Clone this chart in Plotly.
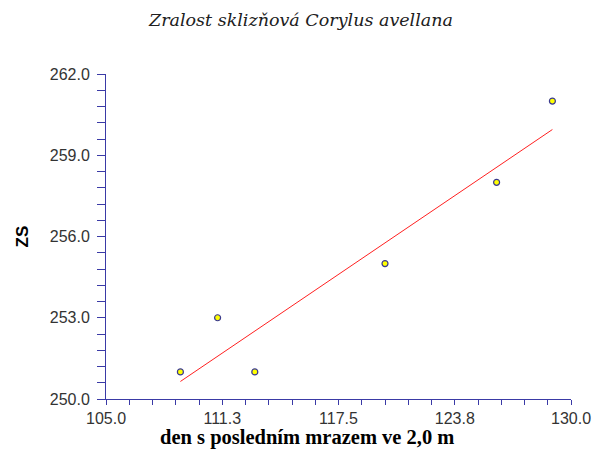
import numpy as np
import plotly.graph_objects as go

# Data
days = [109, 111, 113, 120, 126, 129]
zs = [251, 253, 251, 255, 258, 261]

x_tickvals = [105.0, 111.25, 117.5, 123.75, 130.0]
x_ticktext = ["105.0", "111.3", "117.5", "123.8", "130.0"]
y_tickvals = [250.0, 253.0, 256.0, 259.0, 262.0]
y_ticktext = ["250.0", "253.0", "256.0", "259.0", "262.0"]

title_text = "Zralost sklizňová Corylus avellana"
x_title = "den s posledním mrazem ve 2,0 m"
y_title = "ZS"

# Regression line from data
slope, intercept = np.polyfit(days, zs, 1)
fit_x = [min(days), max(days)]
fit_y = [slope * v + intercept for v in fit_x]

axis_color = "#3a3aa6"
label_color = "#333333"

fig = go.Figure()
fig.add_trace(go.Scatter(x=fit_x, y=fit_y, mode="lines",
                         line=dict(color="#ff2020", width=1), showlegend=False,
                         hoverinfo="skip"))
fig.add_trace(go.Scatter(x=days, y=zs, mode="markers",
                         marker=dict(color="#ffff00", size=6,
                                     line=dict(color="#3a3a90", width=1.2)),
                         showlegend=False))

fig.update_layout(
    width=593, height=452,
    margin=dict(l=106, r=22, t=74, b=53, autoexpand=False),
    paper_bgcolor="white", plot_bgcolor="white",
    xaxis=dict(range=[105, 130], showgrid=False, zeroline=False, automargin=False,
               showline=True, linecolor=axis_color, linewidth=1,
               ticks="outside", ticklen=5, tickcolor=axis_color,
               tickmode="array", tickvals=x_tickvals, ticktext=x_ticktext,
               tickfont=dict(family="Liberation Sans, Arial", size=16, color=label_color),
               minor=dict(dtick=1.25, tick0=105, ticks="outside", ticklen=5,
                          tickcolor=axis_color, showgrid=False)),
    yaxis=dict(range=[250, 262], showgrid=False, zeroline=False, automargin=False,
               showline=True, linecolor=axis_color, linewidth=1,
               ticks="outside", ticklen=8, tickcolor=axis_color,
               tickmode="array", tickvals=y_tickvals, ticktext=y_ticktext,
               ticklabelstandoff=4,
               tickfont=dict(family="Liberation Sans, Arial", size=16, color=label_color),
               minor=dict(dtick=0.6, tick0=250, ticks="outside", ticklen=8,
                          tickcolor=axis_color, showgrid=False)),
    annotations=[
        dict(text=title_text, xref="paper", yref="paper",
             x=(300 - 106) / 465, y=1 + (74 - 20) / 325,
             showarrow=False, xanchor="center", yanchor="middle",
             font=dict(family="DejaVu Serif", size=17.5, color="#202020", style="italic")),
        dict(text="<b>" + x_title + "</b>", xref="paper", yref="paper",
             x=(307 - 106) / 465, y=-(437 - 399) / 325,
             showarrow=False, xanchor="center", yanchor="middle",
             font=dict(family="Liberation Serif, Times New Roman", size=20.5, color="#000000")),
        dict(text="<b>" + y_title + "</b>", xref="paper", yref="paper",
             x=-(106 - 22) / 465, y=0.5, textangle=-90,
             showarrow=False, xanchor="center", yanchor="middle",
             font=dict(family="Liberation Sans, Arial", size=17, color="#000000")),
    ],
)

fig.write_html("out.html")
